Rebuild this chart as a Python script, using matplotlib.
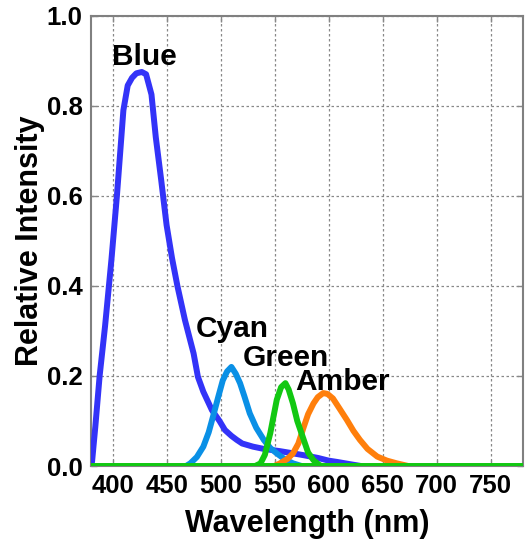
import matplotlib
matplotlib.use("Agg")
import matplotlib.pyplot as plt

plt.rcParams['font.family'] = ['Liberation Sans', 'DejaVu Sans']
plt.rcParams['font.weight'] = 'bold'

blue_wl = [380, 381, 384, 388, 393, 399, 404, 410, 414, 418, 422, 427, 431, 436, 440, 445, 450, 455, 460,
           467, 475, 479, 484, 492, 499, 504, 510, 515, 520, 530, 540, 546, 555, 565, 577, 590, 600, 608,
           620, 630, 641, 645]
blue_v = [0.0, 0.01, 0.087, 0.2, 0.31, 0.46, 0.6, 0.79, 0.845, 0.862, 0.872, 0.875, 0.87, 0.825, 0.73, 0.635,
          0.535, 0.462, 0.40, 0.324, 0.25, 0.198, 0.165, 0.124, 0.10, 0.08, 0.067, 0.058, 0.05, 0.043, 0.038,
          0.036, 0.033, 0.029, 0.024, 0.018, 0.012, 0.009, 0.004, 0.0, -0.005, -0.005]

cyan_wl = [462, 464, 468, 472, 478, 484, 489, 493, 498, 502, 506, 510, 514, 518, 522, 527, 533, 540, 546,
           552, 560, 567, 575, 586]
cyan_v = [-0.008, -0.005, 0.0, 0.006, 0.02, 0.043, 0.075, 0.11, 0.155, 0.19, 0.21, 0.22, 0.205, 0.184,
          0.155, 0.117, 0.085, 0.058, 0.04, 0.028, 0.014, 0.006, 0.0, -0.007]

green_wl = [524, 527, 532, 537, 541, 546, 549, 552, 556, 560, 563, 567, 571, 577, 581, 586, 591, 597]
green_v = [-0.007, -0.003, 0.0, 0.006, 0.025, 0.073, 0.11, 0.147, 0.175, 0.184, 0.17, 0.139, 0.10, 0.058,
           0.03, 0.013, 0.003, -0.005]

amber_wl = [541, 543, 548, 555, 562, 567, 572, 577, 581, 586, 590, 595, 599, 604, 610, 617, 623, 629, 636,
            645, 654, 663, 672, 682]
amber_v = [-0.008, -0.006, -0.002, 0.006, 0.016, 0.028, 0.05, 0.087, 0.115, 0.139, 0.153, 0.162, 0.16, 0.15,
           0.128, 0.102, 0.078, 0.058, 0.038, 0.021, 0.012, 0.006, 0.001, -0.005]

labels = ["Blue", "Cyan", "Green", "Amber"]
label_pos = [(429, 0.891), (511, 0.287), (560, 0.221), (613, 0.169)]

x_ticks = [400, 450, 500, 550, 600, 650, 700, 750]
y_ticks = [0.0, 0.2, 0.4, 0.6, 0.8, 1.0]

C_BLUE = '#3333F8'
C_CYAN = '#0A90E6'
C_GREEN = '#12C812'
C_AMBER = '#FF7F0C'

fig = plt.figure(figsize=(5.29, 5.39), dpi=100)
ax = fig.add_axes([0.172, 0.1354, 0.8167, 0.8355])

lw = 4.3
ax.plot(blue_wl, blue_v, color=C_BLUE, lw=lw, solid_joinstyle='round', zorder=3)
ax.plot(cyan_wl, cyan_v, color=C_CYAN, lw=lw, solid_joinstyle='round', zorder=4)
ax.plot(amber_wl, amber_v, color=C_AMBER, lw=lw, solid_joinstyle='round', zorder=5)
ax.axhline(0, color=C_GREEN, lw=lw, zorder=6)
ax.plot(green_wl, green_v, color=C_GREEN, lw=lw, solid_joinstyle='round', zorder=7)

for lab, (x, y) in zip(labels, label_pos):
    ax.text(x, y, lab, ha='center', va='baseline', fontsize=21.5, fontweight='bold', color='black', zorder=8)

ax.set_xlim(380, 780)
ax.set_ylim(0, 1.0)
ax.set_xticks(x_ticks)
ax.set_yticks(y_ticks)
ax.set_yticklabels([f"{v:.1f}" for v in y_ticks])
ax.grid(True, color='#888888', linestyle=(0, (2, 2)), lw=0.9)
ax.set_axisbelow(True)
ax.tick_params(direction='in', length=4, width=1, color='#888888', labelsize=18.5,
               top=True, right=True, pad=6)
for sp in ax.spines.values():
    sp.set_color('#808080')
    sp.set_linewidth(1.5)
ax.set_xlabel("Wavelength (nm)", fontsize=22, fontweight='bold', labelpad=8)
ax.set_ylabel("Relative Intensity", fontsize=22, fontweight='bold', labelpad=1)

fig.savefig("out.png", dpi=100)
